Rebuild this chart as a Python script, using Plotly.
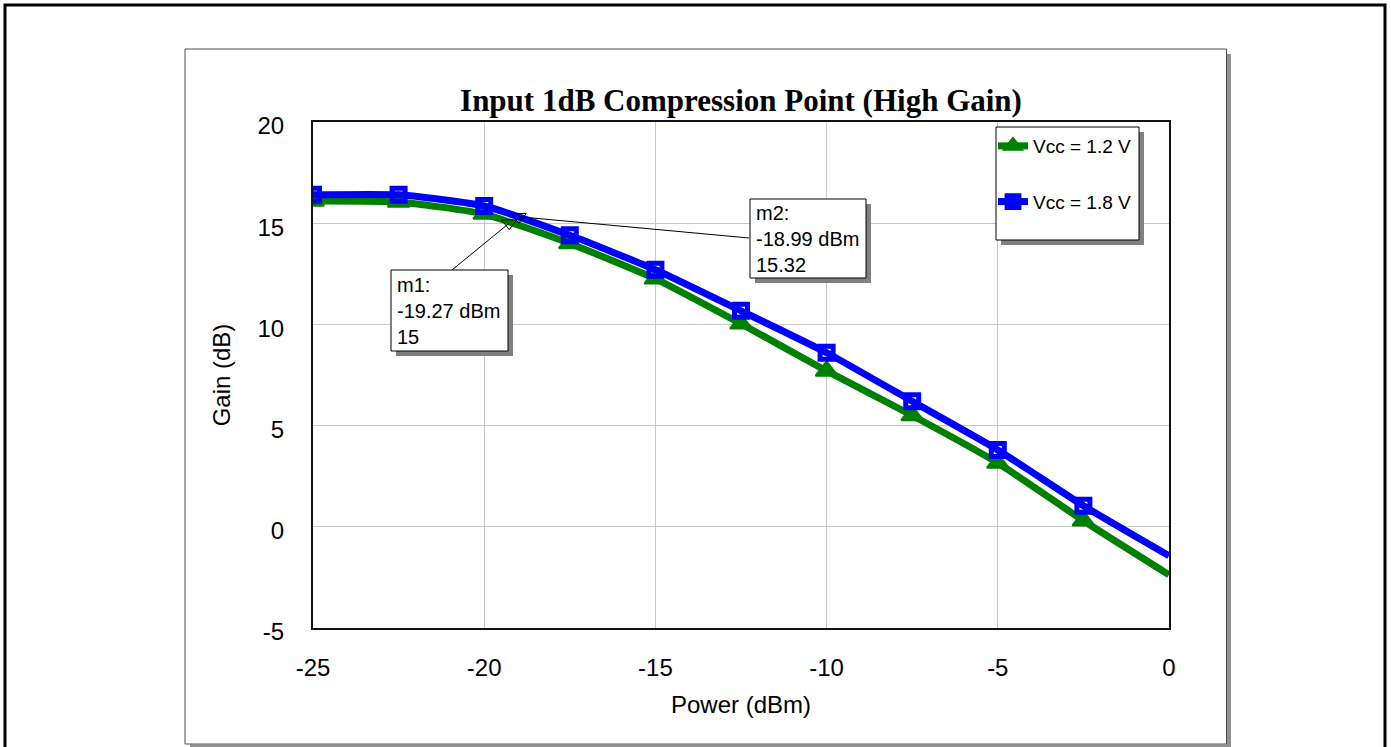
import plotly.graph_objects as go

# ---------------- data ----------------
power_dbm = [-25, -22.5, -20, -17.5, -15, -12.5, -10, -7.5, -5, -2.5, 0]
gain_12v = [16.1, 16.05, 15.45, 14.0, 12.25, 10.03, 7.7, 5.5, 3.15, 0.3, -2.37]
gain_18v = [16.4, 16.4, 15.85, 14.4, 12.7, 10.67, 8.6, 6.2, 3.8, 1.04, -1.43]
series_names = ["Vcc = 1.2 V", "Vcc = 1.8 V"]
marker_names = ["m1", "m2"]
marker_x = [-19.27, -18.99]
marker_y = [15, 15.32]
x_ticks = [-25, -20, -15, -10, -5, 0]
x_tick_labels = ["-25", "-20", "-15", "-10", "-5", "0"]
y_ticks = [-5, 0, 5, 10, 15, 20]
y_tick_labels = ["-5", "0", "5", "10", "15", "20"]
title_text = "Input 1dB Compression Point (High Gain)"
x_title = "Power (dBm)"
y_title = "Gain (dB)"

# ---------------- layout geometry (screen pixels) ----------------
W, H = 1391, 747
L, R, T, B = 313, 1169, 122, 628
XMIN, XMAX, YMIN, YMAX = -25, 0, -5, 20


def px(x):
    return (x - L) / (R - L)


def py(y):
    return (B - y) / (B - T)


def dx(x):
    return XMIN + (x - L) / (R - L) * (XMAX - XMIN)


def dy(y):
    return YMAX - (y - T) / (B - T) * (YMAX - YMIN)


def rect(x0, y0, x1, y1, line=None, fill=None, width=1, layer="above"):
    return dict(type="rect", xref="paper", yref="paper",
                x0=px(x0), x1=px(x1), y0=py(y1), y1=py(y0),
                line=dict(color=line if line else "rgba(0,0,0,0)", width=width if line else 0),
                fillcolor=fill if fill else "rgba(0,0,0,0)", layer=layer)


FONT = "Liberation Sans, Arial, sans-serif"
GREEN = "#008000"
BLUE = "#0000ff"

fig = go.Figure()

n = len(power_dbm)
sizes = [19] * (n - 1) + [0]
fig.add_trace(go.Scatter(
    x=power_dbm, y=gain_12v, name=series_names[0], mode="lines+markers",
    line=dict(color=GREEN, width=7, shape="spline", smoothing=0.5),
    marker=dict(symbol="triangle-up", size=sizes, color=GREEN, opacity=1,
                line=dict(color=GREEN, width=2)),
    legendgroup="a"))
sizes_b = [13] * (n - 1) + [0]
fig.add_trace(go.Scatter(
    x=power_dbm, y=gain_18v, name=series_names[1], mode="lines+markers",
    line=dict(color=BLUE, width=7, shape="spline", smoothing=0.5),
    marker=dict(symbol="square-open", size=sizes_b, color=BLUE, opacity=1,
                line=dict(color=BLUE, width=5)),
    legendgroup="b"))
fig.add_trace(go.Scatter(
    x=marker_x, y=marker_y, mode="markers", showlegend=False,
    marker=dict(symbol="triangle-down-open", size=13, color="black",
                line=dict(color="black", width=1)),
    hoverinfo="skip"))

shapes = []
# outer black frame
shapes.append(rect(5, 5, 1385, 770, line="black", width=3, layer="below"))
# inner panel with shadow
shapes.append(rect(1227, 54, 1231, 770, fill="#909090", layer="below"))
shapes.append(rect(190, 744.5, 1231, 770, fill="#909090", layer="below"))
shapes.append(rect(185, 49, 1226.5, 744, line="#505050", width=1, layer="below"))

# legend box with shadow
shapes.append(rect(1001, 132, 1144, 245, fill="#808080"))
shapes.append(rect(996, 127, 1139, 240, line="black", fill="white", width=1))

# marker boxes (m1, m2) with shadow
boxes = [(391, 270, 508, 351), (750, 199, 866, 278)]
attach = [(452, 270), (749, 238)]
for i, (x0, y0, x1, y1) in enumerate(boxes):
    ax_, ay_ = attach[i]
    shapes.append(dict(type="line", xref="x", yref="y",
                       x0=marker_x[i], y0=marker_y[i], x1=dx(ax_), y1=dy(ay_),
                       line=dict(color="black", width=1), layer="above"))
    shapes.append(rect(x0 + 5, y0 + 5, x1 + 5, y1 + 5, fill="#808080"))
    shapes.append(rect(x0, y0, x1, y1, line="black", fill="white", width=1))

annotations = []
for i, (x0, y0, x1, y1) in enumerate(boxes):
    txt = f"{marker_names[i]}:<br>{marker_x[i]:.2f} dBm<br>{marker_y[i]:g}"
    annotations.append(dict(
        xref="paper", yref="paper", x=px(x0 + 4), y=py((y0 + y1) / 2),
        xanchor="left", yanchor="middle", align="left", showarrow=False,
        text=txt, font=dict(family=FONT, size=20, color="black")))

fig.update_layout(
    width=W, height=H,
    margin=dict(l=L, r=W - R, t=T, b=H - B, pad=0),
    paper_bgcolor="white", plot_bgcolor="white",
    title=dict(text=f"<b>{title_text}</b>", x=0.5, xref="paper", xanchor="center",
               y=1 - 100 / H, yref="container", yanchor="middle",
               font=dict(family="Liberation Serif, Times New Roman, serif", size=31, color="black")),
    xaxis=dict(range=[XMIN, XMAX], tickvals=x_ticks, ticktext=x_tick_labels,
               showgrid=True, gridcolor="#c8c8c8",
               gridwidth=1, zeroline=False, showline=True, mirror=True, linecolor="#111111",
               linewidth=2, ticks="", ticklabelstandoff=17,
               tickfont=dict(family=FONT, size=24, color="black"),
               title=dict(text=x_title, standoff=16, font=dict(family=FONT, size=24, color="black"))),
    yaxis=dict(range=[YMIN, YMAX], tickvals=y_ticks, ticktext=y_tick_labels,
               showgrid=True, gridcolor="#c8c8c8",
               gridwidth=1, zeroline=False, showline=True, mirror=True, linecolor="#111111",
               linewidth=2, ticks="", ticklabelstandoff=22, ticklabelshift=4,
               tickfont=dict(family=FONT, size=24, color="black"),
               title=dict(text=y_title, standoff=20, font=dict(family=FONT, size=24, color="black"))),
    legend=dict(x=px(993), y=py(127), xanchor="left", yanchor="top",
                bgcolor="rgba(0,0,0,0)", borderwidth=0, traceorder="grouped",
                tracegroupgap=28, itemwidth=30,
                font=dict(family=FONT, size=19, color="black")),
    shapes=shapes, annotations=annotations,
    showlegend=True,
)

fig.write_html("out.html", config={"displayModeBar": False},
               post_script="document.body.style.margin='0px';document.body.style.overflow='hidden';")
